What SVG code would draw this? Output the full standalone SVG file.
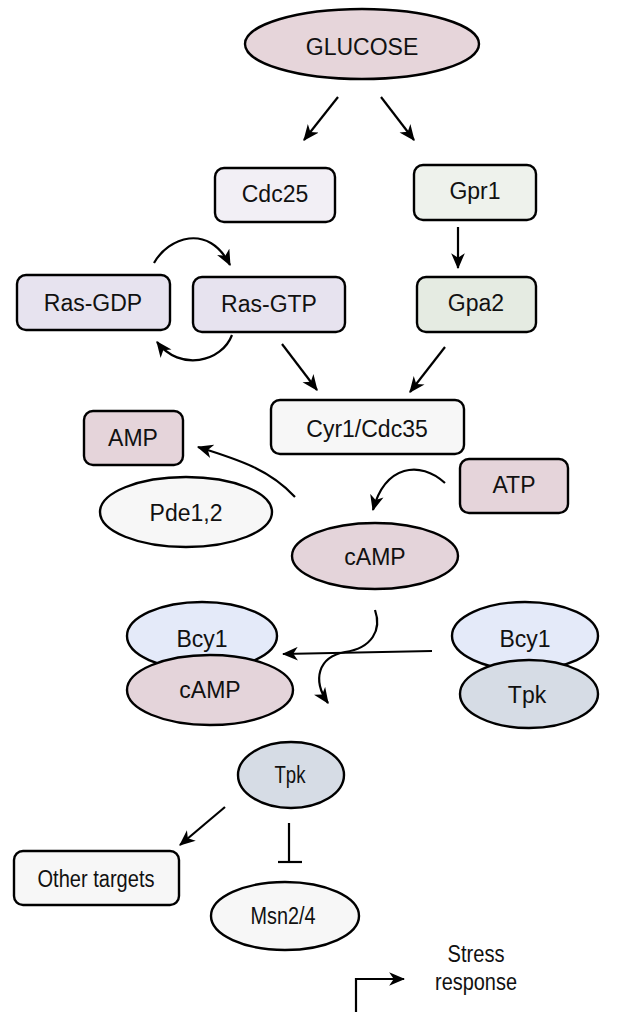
<svg xmlns="http://www.w3.org/2000/svg" width="629" height="1012" viewBox="0 0 629 1012">
<defs>
<marker id="ah" viewBox="0 0 14 12" refX="13" refY="6" markerWidth="16" markerHeight="14" markerUnits="userSpaceOnUse" orient="auto">
<path d="M0,0 L14,6 L0,12 L4,6 z" fill="#000"/>
</marker>
<style>
.n{stroke:#000;stroke-width:2.4}
.t{font-family:"Liberation Sans",Arial,sans-serif;font-size:23px;fill:#111;text-anchor:middle}
.c{fill:none;stroke:#000;stroke-width:2.2}
.a{marker-end:url(#ah)}
</style>
</defs>
<rect width="629" height="1012" fill="#fff"/>

<g id="connectors">
<line class="c a" x1="338" y1="97" x2="304" y2="140"/>
<line class="c a" x1="381" y1="97" x2="414" y2="140"/>
<line class="c a" x1="458" y1="227" x2="458" y2="268"/>
<path class="c a" d="M154,263 C168,238 208,222 230,265"/>
<path class="c a" d="M232,335 C222,362 180,372 157,342"/>
<line class="c a" x1="282" y1="344" x2="317" y2="390"/>
<line class="c a" x1="445" y1="347" x2="410" y2="392"/>
<path class="c a" d="M295,497 C270,470 240,460 198,447"/>
<path class="c a" d="M445,483 C420,460 385,465 373,510"/>
<line class="c a" x1="432" y1="651" x2="283" y2="654"/>
<path class="c a" d="M375,610 C382,630 372,648 345,652 C318,657 312,680 328,703"/>
<line class="c a" x1="225" y1="807" x2="180" y2="845"/>
<line class="c" x1="289" y1="823" x2="289" y2="862"/>
<line class="c" x1="278" y1="862" x2="302" y2="862"/>
<path class="c a" d="M356,1012 L356,979 L404,979"/>
</g>

<g id="glucose"><ellipse class="n" cx="362" cy="44" rx="117" ry="35" fill="#e6d5da"/><text class="t" x="362" y="55">GLUCOSE</text></g>
<g id="cdc25"><rect class="n" x="215" y="168" width="120" height="54" rx="9" fill="#f2eff5"/><text class="t" x="275" y="202">Cdc25</text></g>
<g id="gpr1"><rect class="n" x="414" y="165" width="122" height="55" rx="9" fill="#eef2ec"/><text class="t" x="475" y="199">Gpr1</text></g>
<g id="ras-gdp"><rect class="n" x="17" y="275" width="153" height="55" rx="9" fill="#e7e3ef"/><text class="t" x="93" y="311">Ras-GDP</text></g>
<g id="ras-gtp"><rect class="n" x="193" y="277" width="152" height="55" rx="9" fill="#e7e3ef"/><text class="t" x="269" y="312">Ras-GTP</text></g>
<g id="gpa2"><rect class="n" x="417" y="277" width="119" height="55" rx="9" fill="#e5ebe2"/><text class="t" x="476" y="311">Gpa2</text></g>
<g id="cyr1"><rect class="n" x="271" y="400" width="193" height="54" rx="9" fill="#f7f7f7"/><text class="t" x="367" y="437">Cyr1/Cdc35</text></g>
<g id="amp"><rect class="n" x="84" y="411" width="99" height="54" rx="9" fill="#e5d4da"/><text class="t" x="133" y="446">AMP</text></g>
<g id="atp"><rect class="n" x="460" y="459" width="108" height="54" rx="9" fill="#e5d4da"/><text class="t" x="514" y="493">ATP</text></g>
<g id="pde"><ellipse class="n" cx="186" cy="512" rx="86" ry="35" fill="#f7f7f7"/><text class="t" x="186" y="521">Pde1,2</text></g>
<g id="camp"><ellipse class="n" cx="375" cy="556" rx="83" ry="33" fill="#e4d4da"/><text class="t" x="375" y="565">cAMP</text></g>
<g id="bcy1-camp">
<ellipse class="n" cx="202" cy="636" rx="75" ry="34" fill="#e4eaf9"/><text class="t" x="202" y="647">Bcy1</text>
<ellipse class="n" cx="210" cy="690" rx="83" ry="35" fill="#e4d4da"/><text class="t" x="210" y="698">cAMP</text>
</g>
<g id="bcy1-tpk">
<ellipse class="n" cx="525" cy="636" rx="73" ry="34" fill="#e4eaf9"/><text class="t" x="525" y="647">Bcy1</text>
<ellipse class="n" cx="529" cy="694" rx="69" ry="34" fill="#d6dce5"/><text class="t" x="527" y="703">Tpk</text>
</g>
<g id="tpk"><ellipse class="n" cx="291" cy="775" rx="53" ry="33" fill="#d6dce5"/><text class="t" x="290" y="783" textLength="31" lengthAdjust="spacingAndGlyphs">Tpk</text></g>
<g id="other"><rect class="n" x="14" y="851" width="165" height="54" rx="9" fill="#f7f7f7"/><text class="t" x="96" y="887" textLength="117" lengthAdjust="spacingAndGlyphs">Other targets</text></g>
<g id="msn"><ellipse class="n" cx="285" cy="916" rx="74" ry="34" fill="#f7f7f7"/><text class="t" x="283" y="924" textLength="65" lengthAdjust="spacingAndGlyphs">Msn2/4</text></g>
<g id="stress"><text class="t" x="476" y="962" textLength="57" lengthAdjust="spacingAndGlyphs">Stress</text><text class="t" x="476" y="990" textLength="82" lengthAdjust="spacingAndGlyphs">response</text></g>
</svg>
